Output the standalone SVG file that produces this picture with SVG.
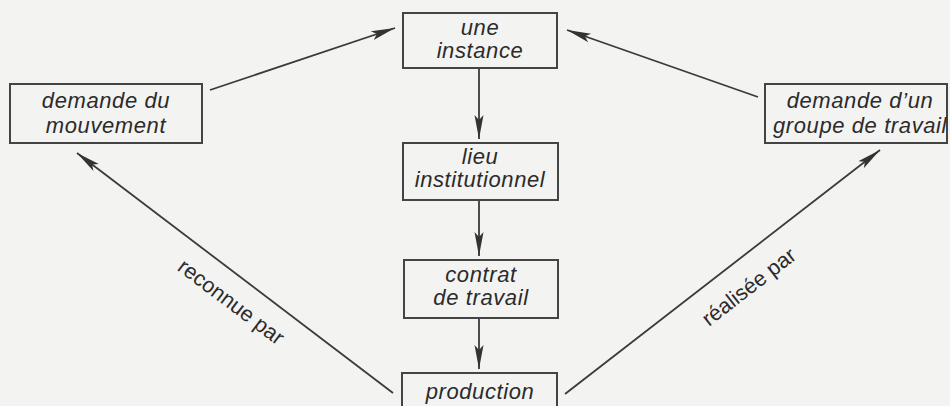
<svg xmlns="http://www.w3.org/2000/svg" width="950" height="406" viewBox="0 0 950 406">
  <defs>
    <style>
      .box { fill: none; stroke: #444; stroke-width: 2; }
      .lbl { font-family: "Liberation Sans", Arial, sans-serif; font-style: italic; font-size: 22px; letter-spacing: 0.6px; fill: #2b2b2b; text-anchor: middle; }
      .edge { font-family: "Liberation Sans", Arial, sans-serif; font-size: 21.5px; fill: #2b2b2b; text-anchor: middle; }
      .conn { stroke: #3a3a3a; stroke-width: 1.8; fill: none; marker-end: url(#arrow); }
    </style>
    <marker id="arrow" markerUnits="userSpaceOnUse" markerWidth="30" markerHeight="14" refX="24" refY="7" orient="auto">
      <path d="M0,2.5 L24,7 L0,11.5 L5,7 Z" fill="#333"/>
    </marker>
  </defs>
  <rect x="0" y="0" width="950" height="406" fill="#f3f3f1"/>

  <g id="connectors">
    <line class="conn" x1="479" y1="68" x2="479" y2="139"/>
    <line class="conn" x1="479" y1="201" x2="479" y2="256"/>
    <line class="conn" x1="479" y1="318" x2="479" y2="369"/>
    <line class="conn" x1="210" y1="90" x2="395" y2="28"/>
    <line class="conn" x1="758" y1="97" x2="567" y2="30"/>
    <line class="conn" x1="393" y1="393" x2="77" y2="153"/>
    <line class="conn" x1="565" y1="394" x2="880" y2="150"/>
    <text class="edge" transform="translate(231,302) rotate(37)" x="0" y="7">reconnue par</text>
    <text class="edge" transform="translate(749,287) rotate(-37.8)" x="0" y="7">réalisée par</text>
  </g>

  <g id="une-instance">
    <rect class="box" x="403" y="13" width="154" height="55"/>
    <text class="lbl" x="480" y="35">une</text>
    <text class="lbl" x="480" y="58">instance</text>
  </g>

  <g id="lieu-institutionnel">
    <rect class="box" x="403" y="143" width="155" height="57"/>
    <text class="lbl" x="480" y="164">lieu</text>
    <text class="lbl" x="480" y="187">institutionnel</text>
  </g>

  <g id="contrat-de-travail">
    <rect class="box" x="404" y="260" width="154" height="58"/>
    <text class="lbl" x="481" y="282">contrat</text>
    <text class="lbl" x="481" y="305">de travail</text>
  </g>

  <g id="production">
    <rect class="box" x="402" y="373" width="155" height="45"/>
    <text class="lbl" x="480" y="399">production</text>
  </g>

  <g id="demande-du-mouvement">
    <rect class="box" x="10" y="84" width="192" height="59"/>
    <text class="lbl" x="106" y="108">demande du</text>
    <text class="lbl" x="106" y="133">mouvement</text>
  </g>

  <g id="demande-groupe-de-travail">
    <rect class="box" x="765" y="84" width="182" height="59"/>
    <text class="lbl" x="860" y="108">demande d’un</text>
    <text class="lbl" x="860" y="133" letter-spacing="0.3">groupe de travail</text>
  </g>
</svg>
